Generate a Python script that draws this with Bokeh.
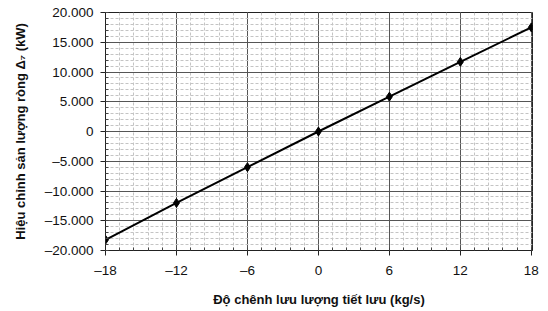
from bokeh.plotting import figure
from bokeh.models import Range1d, FixedTicker
from bokeh.embed import file_html
from bokeh.resources import INLINE

flow_diff = [-18, -12, -6, 0, 6, 12, 18]
net_output_corr = [-18200, -12000, -6000, 0, 5850, 11700, 17500]

x_ticks = [-18, -12, -6, 0, 6, 12, 18]
x_tick_labels = ["\u201318", "\u201312", "\u20136", "0", "6", "12", "18"]
y_ticks = [-20000, -15000, -10000, -5000, 0, 5000, 10000, 15000, 20000]
y_tick_labels = ["\u201320.000", "\u201315.000", "\u201310.000", "\u20135.000", "0",
                 "5.000", "10.000", "15.000", "20.000"]
x_minor = [-18 + 1.2 * i for i in range(31)]
y_minor = [-20000 + 1000 * i for i in range(41)]

FONT = "Liberation Sans"

p = figure(width=548, height=311, output_backend="svg", toolbar_location=None,
           x_range=Range1d(-18, 18.1), y_range=Range1d(-20000, 20000),
           min_border_left=105, min_border_right=16, min_border_top=12, min_border_bottom=61)

p.xaxis.ticker = FixedTicker(ticks=x_ticks, minor_ticks=x_minor)
p.yaxis.ticker = FixedTicker(ticks=y_ticks, minor_ticks=y_minor)
p.xaxis.major_label_overrides = dict(zip(x_ticks, x_tick_labels))
p.yaxis.major_label_overrides = dict(zip(y_ticks, y_tick_labels))

p.xaxis.axis_label = "Độ chênh lưu lượng tiết lưu (kg/s)"
p.yaxis.axis_label = "Hiệu chỉnh sản lượng ròng \u0394\u2087 (kW)"

for ax in (p.xaxis[0], p.yaxis[0]):
    ax.axis_label_text_font = FONT
    ax.axis_label_text_font_style = "bold"
    ax.axis_label_text_font_size = "13px"
    ax.major_label_text_font = FONT
    ax.major_label_text_font_size = "13.5px"
    ax.major_label_text_color = "#111111"
    ax.axis_label_text_color = "#111111"
    ax.axis_line_color = "#222222"
    ax.major_tick_line_color = "#222222"
    ax.minor_tick_line_color = "#444444"
    ax.major_tick_out = 5
    ax.major_tick_in = 0
    ax.minor_tick_out = 0
    ax.minor_tick_in = 3

p.xaxis.major_label_standoff = 7
p.xaxis.axis_label_standoff = 11
p.yaxis.major_label_standoff = 7
p.yaxis.axis_label_standoff = 14

p.xgrid.grid_line_color = "#555555"
p.ygrid.grid_line_color = "#555555"
p.xgrid.grid_line_width = 1
p.ygrid.grid_line_width = 1
p.xgrid.minor_grid_line_color = "#c4c4c4"
p.ygrid.minor_grid_line_color = "#c4c4c4"
p.xgrid.minor_grid_line_dash = "3 2"
p.ygrid.minor_grid_line_dash = "3 2"

p.outline_line_color = "#222222"
p.outline_line_width = 1

p.line(flow_diff, net_output_corr, line_color="black", line_width=2)
p.scatter(flow_diff, net_output_corr, marker="diamond", size=9,
          fill_color="black", line_color="black")

open("out.html", "w").write(file_html(p, INLINE))
